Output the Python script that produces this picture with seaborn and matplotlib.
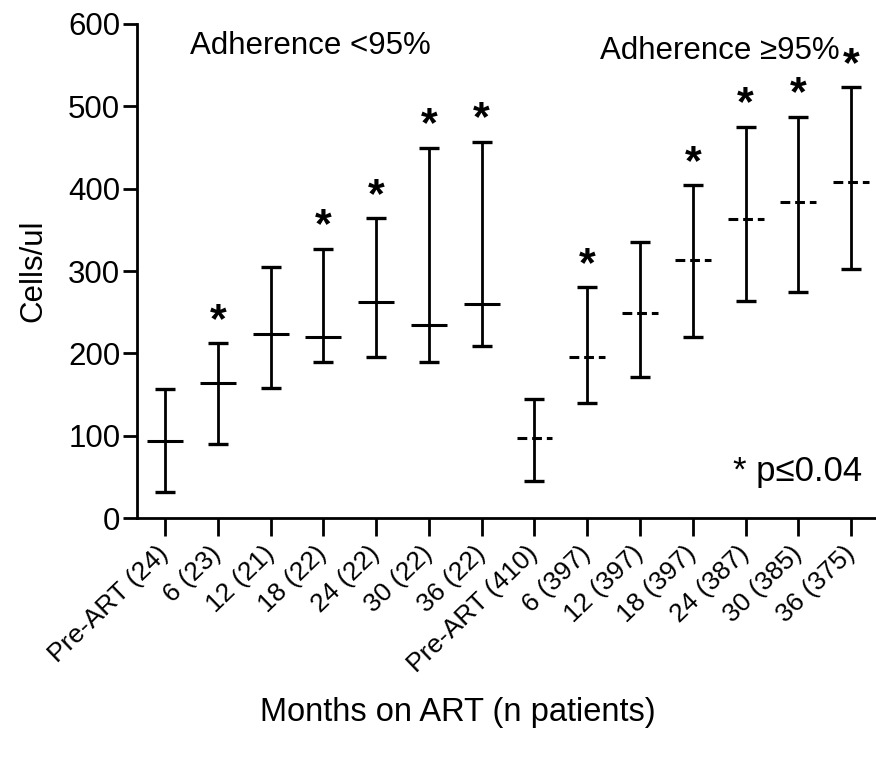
import matplotlib
matplotlib.use("Agg")
import matplotlib.pyplot as plt
import numpy as np
import seaborn as sns

# categories (months on ART, n patients)
labels_low = ["Pre-ART (24)", "6 (23)", "12 (21)", "18 (22)", "24 (22)", "30 (22)", "36 (22)"]
labels_high = ["Pre-ART (410)", "6 (397)", "12 (397)", "18 (397)", "24 (387)", "30 (385)", "36 (375)"]

# CD4 counts: median and interquartile range, adherence <95%
med_low = [93, 164, 224, 220, 262, 235, 260]
q1_low = [31, 90, 158, 189, 196, 189, 209]
q3_low = [157, 212, 305, 327, 364, 450, 457]
sig_low = [False, True, False, True, True, True, True]

# adherence >=95%
med_high = [97, 196, 249, 313, 363, 384, 408]
q1_high = [45, 140, 171, 220, 264, 274, 303]
q3_high = [145, 280, 335, 404, 475, 487, 523]
sig_high = [False, True, False, True, True, True, True]

sns.set_style("ticks")
plt.rcParams["font.family"] = ["Liberation Sans", "DejaVu Sans"]
for k in ["text.color", "axes.labelcolor", "xtick.color", "ytick.color", "axes.edgecolor"]:
    plt.rcParams[k] = "black"

fig = plt.figure(figsize=(8.76, 7.57), dpi=100)
ax = fig.add_axes([0.1564, 0.3157, 0.8436, 0.6526])

labels = labels_low + labels_high
x = np.arange(len(labels))
x_low = x[:len(labels_low)]
x_high = x[len(labels_low):]

for xs, med, q1, q3, sig, ls in [(x_low, med_low, q1_low, q3_low, sig_low, "-"),
                                 (x_high, med_high, q1_high, q3_high, sig_high, (0, (3.2, 1.6)))]:
    med = np.array(med)
    q1 = np.array(q1)
    q3 = np.array(q3)
    ax.errorbar(xs, med, yerr=[med - q1, q3 - med], fmt="none", ecolor="black",
                elinewidth=2, capsize=7.5, capthick=2.4)
    ax.hlines(med, xs - 0.34, xs + 0.34, colors="black", linewidth=2.2, linestyles=ls)
    for xi, top, s in zip(xs, q3, sig):
        if s:
            ax.text(xi, top + 3, "*", ha="center", va="bottom", fontsize=31, fontweight="bold")

ax.set_xlim(-0.53, 13.47)
ax.set_ylim(0, 600)
ax.set_yticks(range(0, 601, 100))
ax.set_xticks(x)
ax.set_xticklabels(labels, rotation=44, ha="right", va="center", rotation_mode="anchor", fontsize=19)
ax.tick_params(axis="y", labelsize=22.5, length=10, width=2, pad=2)
ax.tick_params(axis="x", length=13, width=2, pad=10)
for sp in ["left", "bottom"]:
    ax.spines[sp].set_linewidth(2)
sns.despine(ax=ax)

ax.set_ylabel("Cells/ul", fontsize=22.5, labelpad=14)
fig.text(458 / 876, 1 - 712 / 757, "Months on ART (n patients)", ha="center", va="center", fontsize=23.5)

ax.text(0.47, 573, "Adherence <95%", fontsize=22.5, va="center")
ax.text(8.25, 567, "Adherence \u226595%", fontsize=22.5, va="center")
ax.text(13.2, 57, "* p\u22640.04", fontsize=25, ha="right", va="center")

fig.savefig("out.png", dpi=100)
